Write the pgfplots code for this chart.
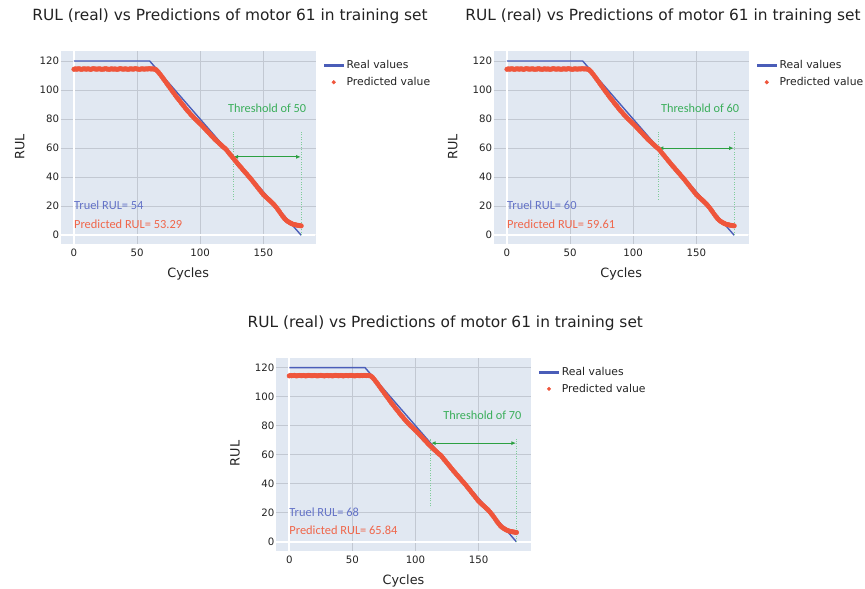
\documentclass[border=0pt]{standalone}
\usepackage{pgfplots}
\pgfplotsset{compat=1.18}
\usepackage{pgfplotstable}
\usepackage{fontspec}
\setmainfont{DejaVu Sans}
\newfontfamily\annfont{Carlito}
\usetikzlibrary{arrows.meta}
\definecolor{bg}{HTML}{E1E8F2}
\definecolor{gridc}{HTML}{C2C8D2}
\definecolor{realc}{HTML}{4A5DB8}
\definecolor{predc}{HTML}{EF553B}
\definecolor{truetxt}{HTML}{6372C7}
\definecolor{predtxt}{HTML}{F0664A}
\definecolor{arrowc}{HTML}{2CA042}
\definecolor{thrtxt}{HTML}{3AAE5A}
\definecolor{dotc}{HTML}{7FCC9A}
\definecolor{txt}{HTML}{222222}

\pgfplotstableread[row sep=\\]{
x y\\
0 114.3\\ 1 114.6\\ 2 114.4\\ 3 114.5\\ 4 114.7\\ 5 114.4\\ 6 114.3\\ 7 114.5\\ 8 114.6\\ 9 114.5\\
10 114.4\\ 11 114.6\\ 12 114.5\\ 13 114.3\\ 14 114.4\\ 15 114.7\\ 16 114.6\\ 17 114.5\\ 18 114.4\\ 19 114.5\\
20 114.6\\ 21 114.5\\ 22 114.3\\ 23 114.4\\ 24 114.5\\ 25 114.7\\ 26 114.5\\ 27 114.4\\ 28 114.3\\ 29 114.5\\
30 114.6\\ 31 114.4\\ 32 114.5\\ 33 114.5\\ 34 114.3\\ 35 114.4\\ 36 114.6\\ 37 114.7\\ 38 114.5\\ 39 114.4\\
40 114.5\\ 41 114.6\\ 42 114.4\\ 43 114.3\\ 44 114.5\\ 45 114.6\\ 46 114.5\\ 47 114.4\\ 48 114.6\\ 49 114.7\\
50 114.5\\ 51 114.4\\ 52 114.3\\ 53 114.5\\ 54 114.6\\ 55 114.5\\ 56 114.4\\ 57 114.6\\ 58 114.5\\ 59 114.6\\
60 114.7\\ 61 114.5\\ 62 114.6\\ 63 114.5\\ 64 114.4\\
65 114.0\\ 66 113.2\\ 67 112.2\\ 68 111.1\\ 69 110.0\\ 70 108.8\\ 71 107.6\\ 72 106.4\\ 73 105.2\\ 74 104.0\\
75 102.8\\ 76 101.6\\ 77 100.4\\ 78 99.2\\ 79 98.0\\ 80 96.8\\ 81 95.6\\ 82 94.5\\ 83 93.4\\ 84 92.3\\
85 91.2\\ 86 90.1\\ 87 89.0\\ 88 87.9\\ 89 86.8\\ 90 85.8\\ 91 84.8\\ 92 83.8\\ 93 82.8\\ 94 81.9\\
95 81.0\\ 96 80.1\\ 97 79.3\\ 98 78.4\\ 99 77.6\\ 100 76.8\\ 101 75.9\\ 102 75.0\\ 103 74.1\\ 104 73.2\\
105 72.2\\ 106 71.3\\ 107 70.4\\ 108 69.5\\ 109 68.5\\ 110 67.6\\ 111 66.7\\ 112 65.84\\ 113 65.0\\ 114 64.2\\
115 63.4\\ 116 62.6\\ 117 61.8\\ 118 61.0\\ 119 60.3\\ 120 59.61\\ 121 58.6\\ 122 57.5\\ 123 56.4\\ 124 55.4\\
125 54.3\\ 126 53.29\\ 127 52.2\\ 128 51.1\\ 129 50.1\\ 130 49.0\\ 131 48.0\\ 132 47.0\\ 133 46.0\\ 134 45.0\\
135 44.0\\ 136 43.0\\ 137 42.0\\ 138 41.0\\ 139 40.0\\ 140 39.0\\ 141 37.9\\ 142 36.8\\ 143 35.7\\ 144 34.6\\
145 33.5\\ 146 32.4\\ 147 31.3\\ 148 30.2\\ 149 29.1\\ 150 28.0\\ 151 27.2\\ 152 26.4\\ 153 25.6\\ 154 24.8\\
155 24.0\\ 156 23.2\\ 157 22.4\\ 158 21.5\\ 159 20.5\\ 160 19.5\\ 161 18.4\\ 162 17.2\\ 163 16.0\\ 164 14.7\\
165 13.5\\ 166 12.4\\ 167 11.3\\ 168 10.5\\ 169 9.8\\ 170 9.2\\ 171 8.7\\ 172 8.2\\ 173 7.8\\ 174 7.5\\
175 7.3\\ 176 7.1\\ 177 6.9\\ 178 6.8\\ 179 6.6\\ 180 6.5\\
}\predtable

\pgfplotstableread[row sep=\\]{
x y\\
0 120\\ 60 120\\ 180 0\\
}\realtable

\pgfplotsset{
 realleg/.style={legend image code/.code={\path[draw=none,fill=none] (0pt,-2pt) rectangle (19pt,2pt); \fill[realc] (0pt,-0.85pt) rectangle (19pt,0.85pt);}},
 predleg/.style={legend image code/.code={\path[draw=none,fill=none] (0pt,-2pt) rectangle (19pt,2pt); \fill[predc] (9.5pt,0pt) circle[radius=1.8pt];}},
 rulaxis/.style={
  scale only axis, width=255pt, height=193pt, anchor=south west,
  xmin=-10.5, xmax=191.5, ymin=-6, ymax=126.9,
  xtick={0,50,100,150}, ytick={0,20,40,60,80,100,120},
  axis background/.style={fill=bg},
  axis line style={draw=none},
  major tick length=0pt,
  grid=major, major grid style={gridc, line width=1pt},
  tick label style={font=\fontsize{10.2}{12}\selectfont, text=txt},
  /pgf/number format/assume math mode=true,
  yticklabel style={inner xsep=1.5pt},
  xticklabel style={yshift=-1.5pt},
  every axis title/.style={at={(axis description cs:0.664,1.157)}, anchor=base, font=\fontsize{15.4}{18}\selectfont, text=txt},
  every axis x label/.style={at={(axis description cs:0.5,-0.1746)}, anchor=base, font=\fontsize{12.8}{15}\selectfont, text=txt},
  every axis y label/.style={at={(axis description cs:-0.1427,0.504)}, rotate=90, anchor=base, font=\fontsize{12.8}{15}\selectfont, text=txt},
  title={RUL (real) vs Predictions of motor 61 in training set},
  xlabel={Cycles}, ylabel={RUL},
  legend style={at={(axis description cs:1.0298,0.9508)}, anchor=north west, draw=none, fill=none,
    inner sep=0pt, font=\fontsize{10.8}{12}\selectfont, text=txt, row sep=7pt, column sep=2.7pt,
    nodes={inner sep=0pt}},
  legend cell align=left,
}}

\newcommand{\rulplot}[6]{%
\begin{axis}[rulaxis, at={(#1)}]
  \addplot[white, line width=2pt, forget plot] coordinates {(0,-6) (0,126.9)};
  \addplot[white, line width=2pt, forget plot] coordinates {(-10.5,0) (191.5,0)};
  \addplot[realc, line width=1.4pt, realleg] table[x=x,y=y] {\realtable};
  \addlegendentry{Real values}
  \addplot[only marks, mark=*, mark size=2.3pt, mark options={fill=predc, draw=predc}, predc, predleg]
    table[x=x,y=y] {\predtable};
  \addlegendentry{Predicted value}
  \addplot[dotc, line width=1pt, dash pattern=on 1pt off 1.5pt, forget plot] coordinates {(#6,24.5) (#6,71)};
  \addplot[dotc, line width=1pt, dash pattern=on 1pt off 1.5pt, forget plot] coordinates {(180,0) (180,71)};
  \addplot[arrowc, line width=0.9pt, {Latex[length=4.5pt,width=4pt]}-{Latex[length=4.5pt,width=4pt]}, forget plot, shorten <=0.5pt, shorten >=0.5pt] coordinates {(#6,#4) (180,#4)};
  \node[anchor=base, font=\annfont\fontsize{12.3}{14}\selectfont, text=thrtxt] at (axis cs:153,84.4) {Threshold of #3};
  \node[anchor=base west, inner sep=0pt, font=\annfont\fontsize{12.4}{14}\selectfont, text=truetxt] at (axis cs:0,17.8) {Truel RUL= #4};
  \node[anchor=base west, inner sep=0pt, font=\annfont\fontsize{12.4}{14}\selectfont, text=predtxt] at (axis cs:0,4.8) {Predicted RUL= #5};
\end{axis}}

\begin{document}
\begin{tikzpicture}
\useasboundingbox (0pt,0pt) rectangle (865pt,589pt);
\rulplot{60.7pt,345pt}{}{50}{54}{53.29}{126}
\rulplot{493.7pt,345pt}{}{60}{60}{59.61}{120}
\rulplot{276pt,38.4pt}{}{70}{68}{65.84}{112}
\end{tikzpicture}
\end{document}
